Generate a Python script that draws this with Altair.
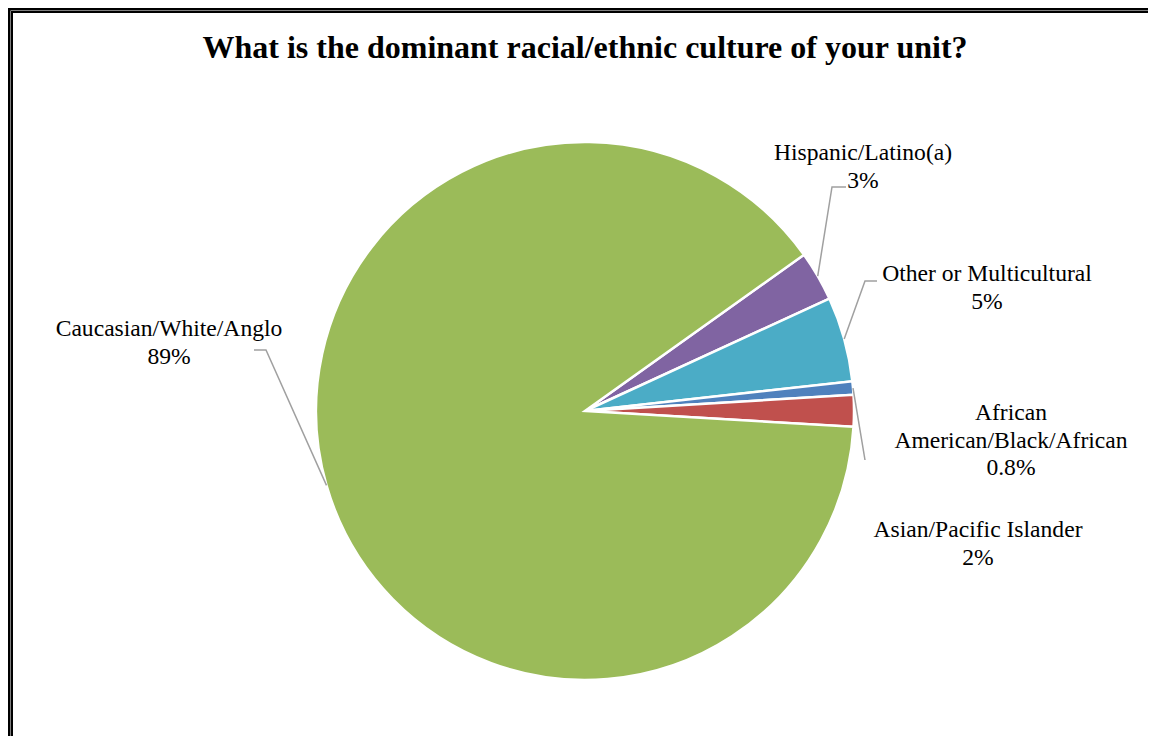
import math
import altair as alt
import pandas as pd

# ---- data ----
categories = ["Hispanic/Latino(a)", "Other or Multicultural",
              "African American/Black/African", "Asian/Pacific Islander",
              "Caucasian/White/Anglo"]
values = [3.0, 5.1, 0.8, 1.9, 89.2]
label_lines = [["Hispanic/Latino(a)", "3%"],
               ["Other or Multicultural", "5%"],
               ["African", "American/Black/African", "0.8%"],
               ["Asian/Pacific Islander", "2%"],
               ["Caucasian/White/Anglo", "89%"]]
colors = ["#8064A2", "#4BACC6", "#4F81BD", "#C0504D", "#9BBB59"]
title_text = "What is the dominant racial/ethnic culture of your unit?"

# ---- layout ----
W, H = 1140, 728
CX, CY, R = 577, 403, 269
START = math.radians(54.5)
label_x = [855, 979, 1003, 970, 161]
label_y = [152, 273, 412, 529, 328]
leader_elbow = [(824, 179), (857, 273), (857, 452), None, (258, 342)]
leader_end = [(838, 179), (869, 273), (857, 452), None, (246, 342)]

df = pd.DataFrame({"cat": categories, "value": values, "idx": range(len(values))})

# leader lines: start at slice edge at mid angle
total = sum(values)
rows = []
cum = 0.0
for i, v in enumerate(values):
    mid = START + 2 * math.pi * (cum + v / 2) / total
    cum += v
    if leader_elbow[i] is None:
        continue
    sx = CX + R * math.sin(mid)
    sy = CY - R * math.cos(mid)
    pts = [(sx, sy), leader_elbow[i], leader_end[i]]
    for k, (px, py) in enumerate(pts):
        rows.append({"seg": i, "k": k, "x": px, "y": py})
lines_df = pd.DataFrame(rows)

labels_df = pd.DataFrame({"x": label_x, "y": label_y,
                          "text": ["\n".join(l) for l in label_lines]})

xs = alt.Scale(domain=[0, W], range=[0, W], nice=False, zero=False)
ys = alt.Scale(domain=[0, H], range=[0, H], nice=False, zero=False)

arcs = alt.Chart(df).mark_arc(outerRadius=R, stroke="white", strokeWidth=2.5).encode(
    theta=alt.Theta("value:Q", stack=True,
                    scale=alt.Scale(range=[START, START + 2 * math.pi])),
    color=alt.Color("cat:N", scale=alt.Scale(domain=categories, range=colors), legend=None),
    order=alt.Order("idx:Q"),
    x=alt.value(CX), y=alt.value(CY),
)

leaders = alt.Chart(lines_df).mark_line(color="#A0A0A0", strokeWidth=1.5).encode(
    x=alt.X("x:Q", scale=xs, axis=None),
    y=alt.Y("y:Q", scale=ys, axis=None),
    detail="seg:N",
    order="k:Q",
)

labels = alt.Chart(labels_df).mark_text(
    font="Times New Roman, Liberation Serif, serif", fontSize=23.6, color="black",
    align="center", baseline="alphabetic", lineBreak="\n", lineHeight=27.5
).encode(
    x=alt.X("x:Q", scale=xs, axis=None),
    y=alt.Y("y:Q", scale=ys, axis=None),
    text="text:N",
)

title = alt.Chart(pd.DataFrame({"t": [title_text]})).mark_text(
    font="Times New Roman, Liberation Serif, serif", fontSize=32, fontWeight="bold",
    color="black", align="center", baseline="alphabetic"
).encode(x=alt.value(577), y=alt.value(50), text="t:N")

dummy = pd.DataFrame({"a": [0]})
outer = alt.Chart(dummy).mark_rect(filled=False, stroke="black", strokeWidth=2.5).encode(
    x=alt.value(1.25), x2=alt.value(W + 50), y=alt.value(1.25), y2=alt.value(H + 50))
inner = alt.Chart(dummy).mark_rect(filled=False, stroke="black", strokeWidth=2).encode(
    x=alt.value(4), x2=alt.value(W + 50), y=alt.value(4), y2=alt.value(H + 50))

chart = alt.layer(outer, inner, arcs, leaders, labels, title).properties(
    width=W, height=H, autosize="none", padding=0
).configure_view(stroke=None)

chart.save("out.html", embed_options={"renderer": "svg", "actions": False})
